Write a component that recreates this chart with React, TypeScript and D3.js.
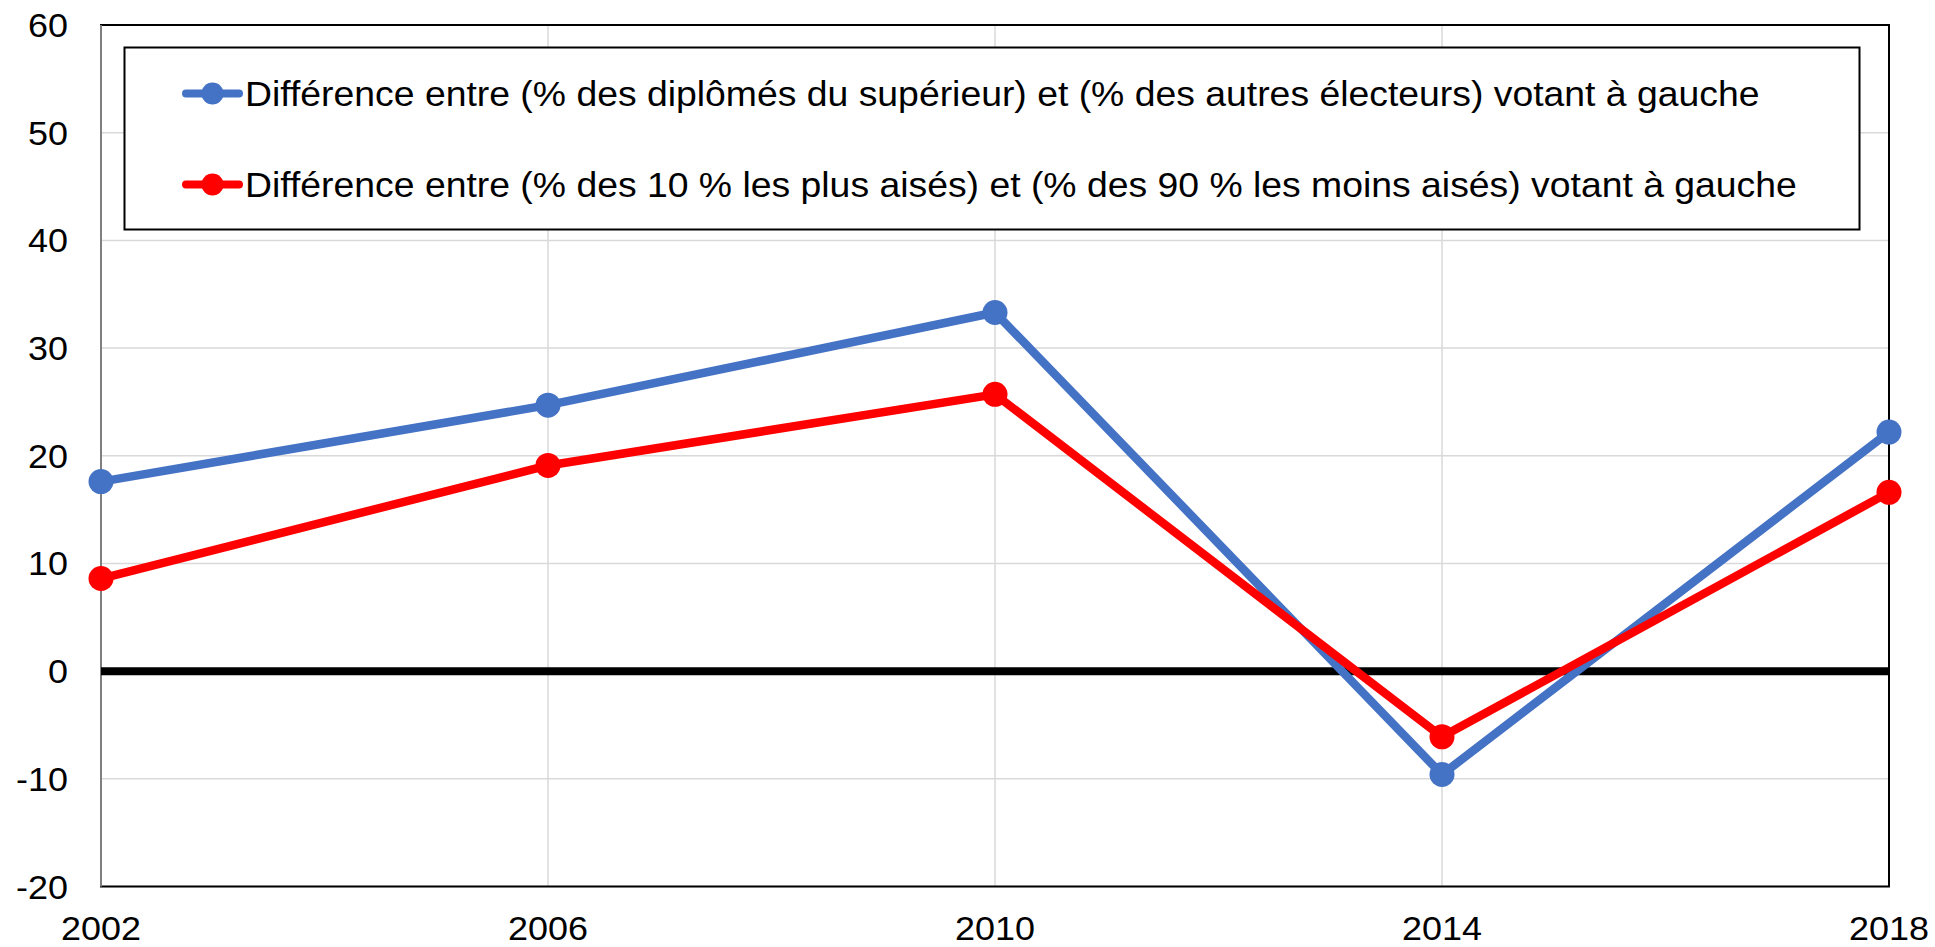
import React from "react";
import * as d3 from "d3";

const years = [2002, 2006, 2010, 2014, 2018];
const diplomesValues = [17.6, 24.7, 33.3, -9.6, 22.2];
const richesValues = [8.6, 19.1, 25.7, -6.1, 16.6];
const yTicks = [-20, -10, 0, 10, 20, 30, 40, 50, 60];
const seriesNames = [
  "Différence entre (% des diplômés du supérieur) et (% des autres électeurs) votant à gauche",
  "Différence entre (% des 10 % les plus aisés) et (% des 90 % les moins aisés) votant à gauche",
];
const seriesColors = ["#4472C4", "#FF0000"];

const W = 1935;
const H = 947;
const plot = { left: 101, right: 1889, top: 25, bottom: 886.5 };
const FONT = "'Liberation Sans', Arial, sans-serif";
const TICK_SX = 1.09;
const LEG_SX = 1.067;

export default function App() {
  const x = d3.scalePoint<number>().domain(years).range([plot.left, plot.right]);
  const y = d3.scaleLinear().domain([-20, 60]).range([plot.bottom, plot.top]);
  const line = d3
    .line<number>()
    .x((_, i) => x(years[i]) as number)
    .y((d) => y(d));
  const series = [diplomesValues, richesValues];

  const legend = { x: 124.5, y: 47.5, w: 1735, h: 182 };
  const legendRows = [93.5, 184.5];

  return (
    <svg
      width={W}
      height={H}
      style={{ position: "absolute", left: 0, top: 0, background: "#fff" }}
      fontFamily={FONT}
    >
      <rect x={0} y={0} width={W} height={H} fill="#fff" />
      {/* gridlines */}
      {yTicks.map((t) => (
        <line key={"gy" + t} x1={plot.left} x2={plot.right} y1={y(t)} y2={y(t)} stroke="#d9d9d9" strokeWidth={1.5} />
      ))}
      {years.map((yr) => (
        <line key={"gx" + yr} x1={x(yr)} x2={x(yr)} y1={plot.top} y2={plot.bottom} stroke="#d9d9d9" strokeWidth={1.5} />
      ))}
      {/* plot border */}
      <rect
        x={plot.left}
        y={plot.top}
        width={plot.right - plot.left}
        height={plot.bottom - plot.top}
        fill="none"
        stroke="#000"
        strokeWidth={2}
      />
      <line x1={plot.left} x2={plot.left} y1={plot.top} y2={plot.bottom} stroke="#7f7f7f" strokeWidth={2} />
      {/* zero line */}
      <line x1={plot.left} x2={plot.right} y1={y(0)} y2={y(0)} stroke="#000" strokeWidth={8} />
      {/* series */}
      {series.map((vals, si) => (
        <g key={"s" + si}>
          <path d={line(vals) || ""} fill="none" stroke={seriesColors[si]} strokeWidth={8.5} strokeLinejoin="round" />
          {vals.map((v, i) => (
            <circle key={i} cx={x(years[i])} cy={y(v)} r={12.5} fill={seriesColors[si]} />
          ))}
        </g>
      ))}
      {/* y axis labels */}
      {yTicks.map((t) => (
        <text
          key={"ty" + t}
          transform={`translate(68,${y(t) + 12}) scale(${TICK_SX},1)`}
          textAnchor="end"
          fontSize={33}
          fill="#000"
        >
          {t}
        </text>
      ))}
      {/* x axis labels */}
      {years.map((yr) => (
        <text
          key={"tx" + yr}
          transform={`translate(${x(yr)},939.5) scale(${TICK_SX},1)`}
          textAnchor="middle"
          fontSize={33}
          fill="#000"
        >
          {yr}
        </text>
      ))}
      {/* legend */}
      <rect x={legend.x} y={legend.y} width={legend.w} height={legend.h} fill="#fff" stroke="#000" strokeWidth={2} />
      {seriesNames.map((name, i) => (
        <g key={"l" + i}>
          <line
            x1={186}
            x2={239}
            y1={legendRows[i]}
            y2={legendRows[i]}
            stroke={seriesColors[i]}
            strokeWidth={8}
            strokeLinecap="round"
          />
          <circle cx={212.5} cy={legendRows[i]} r={11} fill={seriesColors[i]} />
          <text
            transform={`translate(245,${legendRows[i] + 12}) scale(${LEG_SX},1)`}
            fontSize={35}
            fill="#000"
          >
            {name}
          </text>
        </g>
      ))}
    </svg>
  );
}
